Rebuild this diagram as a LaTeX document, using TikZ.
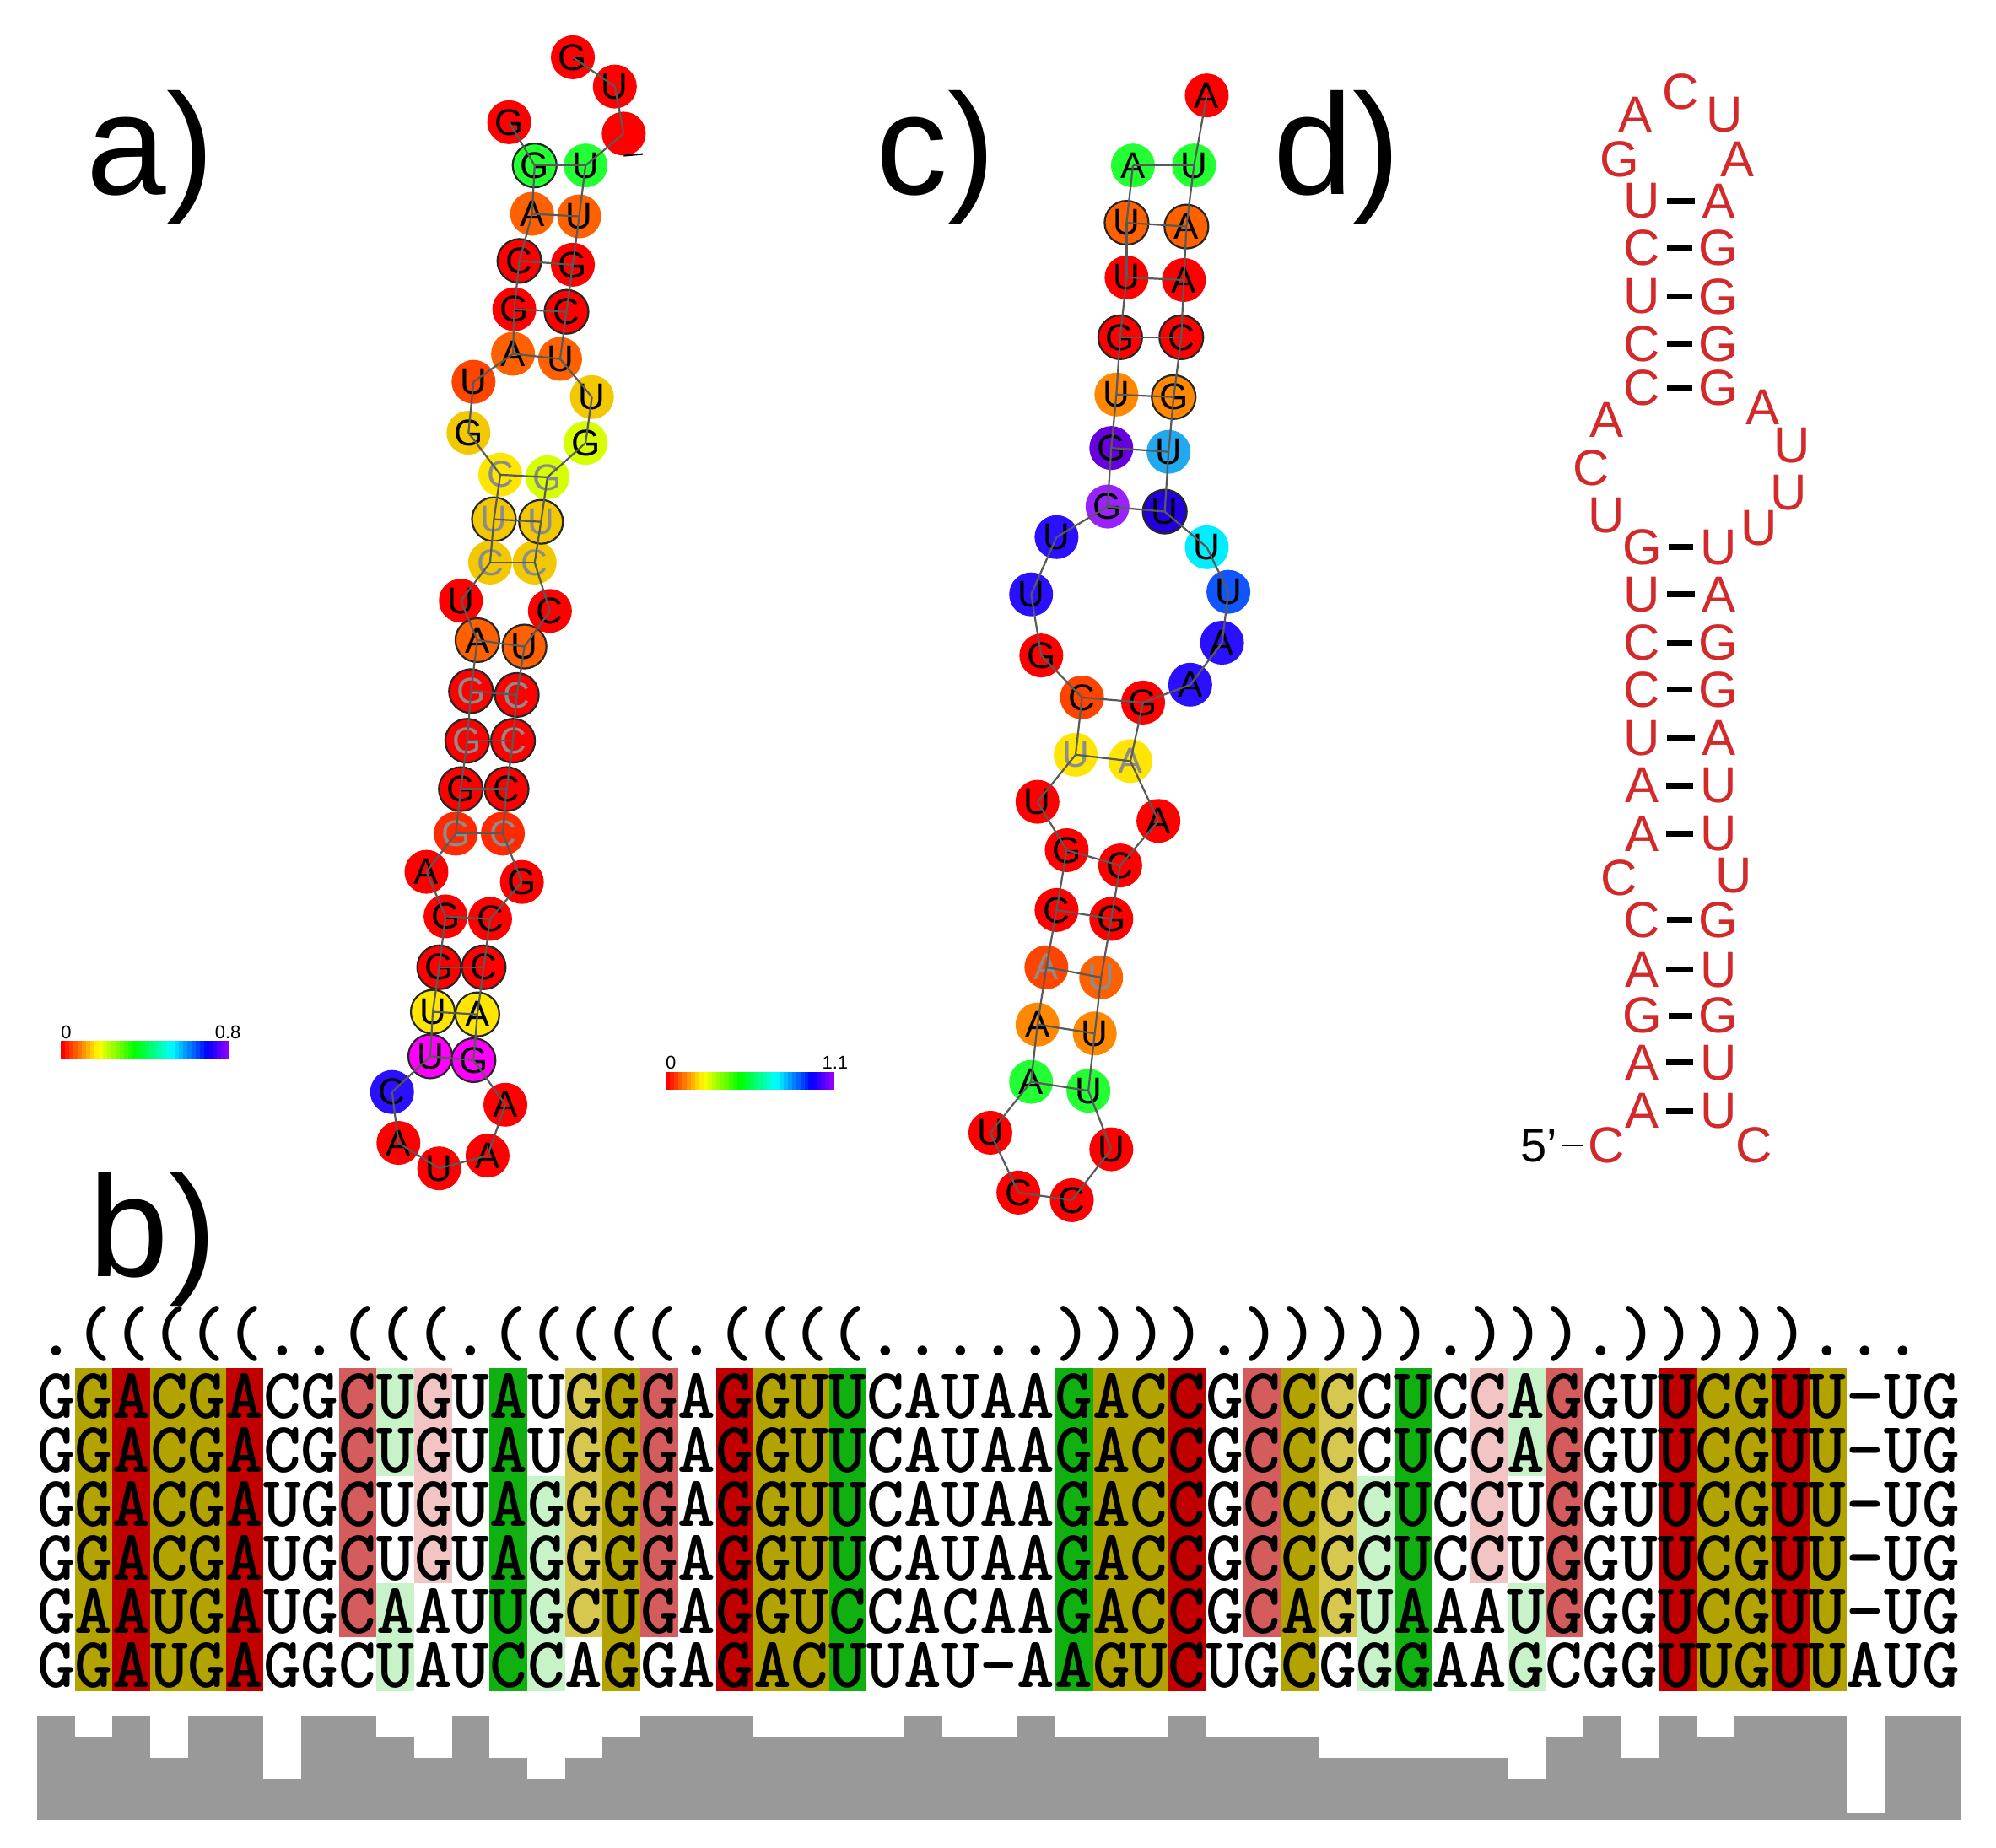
\documentclass[tikz,border=0pt]{standalone}
\usepackage{fontspec}
\setmainfont{Liberation Sans}
\begin{document}
\definecolor{cR}{HTML}{FF0000}
\definecolor{cR2}{HTML}{FF2A00}
\definecolor{cOR}{HTML}{FF4400}
\definecolor{cO}{HTML}{FF6000}
\definecolor{cO2}{HTML}{FF8800}
\definecolor{cGold}{HTML}{F2C800}
\definecolor{cY}{HTML}{FFE600}
\definecolor{cYG}{HTML}{D8FF00}
\definecolor{cG}{HTML}{22FF33}
\definecolor{cB}{HTML}{2A10FF}
\definecolor{cB2}{HTML}{1155FF}
\definecolor{cDB}{HTML}{2200DD}
\definecolor{cLB}{HTML}{22A8EE}
\definecolor{cC}{HTML}{00EEFF}
\definecolor{cP}{HTML}{6600DD}
\definecolor{cV}{HTML}{9922FF}
\definecolor{cM}{HTML}{FF00FF}
\definecolor{dred}{HTML}{D22A2A}
\definecolor{hOl}{HTML}{B3A300}
\definecolor{hDR}{HTML}{C00000}
\definecolor{hSa}{HTML}{D45C5C}
\definecolor{hPk}{HTML}{F3C4C4}
\definecolor{hGr}{HTML}{10B010}
\definecolor{hLG}{HTML}{C8F2C8}
\definecolor{hLO}{HTML}{D6C84E}
\definecolor{barg}{HTML}{999999}
\begin{tikzpicture}[x=1.509pt,y=-1.509pt,
  nt/.style={circle,inner sep=0pt,minimum size=52pt,font=\fontsize{44}{44}\selectfont},
  ol/.style={draw=black!85,line width=2.2pt},
  gt/.style={text=black!45},
  olg/.style={ol,gt},
  bb/.style={draw=black!65,line width=2.2pt},
  lab/.style={font=\fontsize{170}{170}\selectfont,anchor=base west,inner sep=0pt},
  dl/.style={text=dred,font=\fontsize{60}{60}\selectfont,inner sep=0pt},
  pbar/.style={line width=7pt,black},
  mc/.style={font=\ttfamily\bfseries\fontsize{85.1}{85.1}\selectfont,inner sep=0pt}]
\useasboundingbox (0,0) rectangle (1568,1452);
\fill[white] (0,0) rectangle (1568,1452);
% labels
\node[lab] (la) at (68,153) {a)};
\node[lab] (lb) at (70,1003) {b)};
\node[lab] (lc) at (688,153) {c)};
\node[lab] (ld) at (1000,153) {d)};
% colour bars
\foreach \i in {0,...,39}{
  \pgfmathsetmacro\h{\i*7}
  \definecolor{tmpc}{Hsb}{\h,1,1}
  \fill[tmpc] (48+\i*3.3,818) rectangle (48+\i*3.3+3.4,832);
  \fill[tmpc] (523+\i*3.3,842) rectangle (523+\i*3.3+3.4,856);
}
\node[font=\fontsize{22}{22}\selectfont,anchor=base] (cb1) at (52,816) {0};
\node[font=\fontsize{22}{22}\selectfont,anchor=base] (cb2) at (179,816) {0.8};
\node[font=\fontsize{22}{22}\selectfont,anchor=base] (cb3) at (527,840) {0};
\node[font=\fontsize{22}{22}\selectfont,anchor=base] (cb4) at (656,840) {1.1};
% ---------- panel a
\foreach \n/\x/\y/\t/\c/\s in {
1/400/96/G/cR/,2/420/130/G/cG/ol,3/418/168/A/cO/,4/408/205/C/cR/ol,5/404/243/G/cR/,
6/403/278/A/cO/,7/372/300/U/cOR/,8/368/340/G/cGold/,9/393/373/C/cY/gt,10/388/408/U/cGold/olg,
11/385/442/C/cGold/gt,12/362/472/U/cR/,13/375/503/A/cO/ol,14/370/543/G/cR/olg,15/367/582/G/cR/olg,
16/362/620/G/cR/ol,17/358/655/G/cR2/gt,18/335/685/A/cR/,19/350/720/G/cR/,20/345/760/G/cR/ol,
21/340/795/U/cY/ol,22/338/830/U/cM/ol,23/308/858/C/cB/,24/313/898/A/cR/,25/345/918/U/cR/,
26/383/908/A/cR/,27/397/868/A/cR/,28/372/833/G/cM/ol,29/375/797/A/cY/ol,30/380/760/C/cR/ol,
31/385/722/C/cR/,32/410/693/G/cR/,33/395/655/C/cR2/gt,34/398/620/C/cR/ol,35/403/582/C/cR/olg,
36/406/546/C/cR/olg,37/412/508/U/cO/ol,38/432/480/C/cR/,39/420/442/C/cGold/gt,40/425/410/U/cGold/olg,
41/430/375/G/cYG/gt,42/460/348/G/cYG/,43/465/312/U/cGold/,44/440/282/U/cO/,45/445/245/C/cR/ol,
46/450/208/G/cR/,47/455/170/U/cO/,48/460/130/U/cG/,49/490/105/{}/cR/,50/483/68/U/cR/,51/450/45/G/cR/}
{\node[nt,fill=\c,\s] (a\n) at (\x,\y) {\t};}
\foreach \i [evaluate=\i as \j using int(\i+1)] in {1,...,50}{\draw[bb] (a\i.center)--(a\j.center);}
\foreach \p/\q in {2/48,3/47,4/46,5/45,6/44,9/41,10/40,11/39,13/37,14/36,15/35,16/34,17/33,19/31,20/30,21/29,22/28}
{\draw[bb] (a\p.center)--(a\q.center);}
\coordinate (aend) at (505,121);
\draw[line width=2pt] (a49.south)--(aend);
% ---------- panel c
\foreach \n/\x/\y/\t/\c/\s in {
1/890/130/A/cG/,2/885/175/U/cO/ol,3/885/218/U/cR/,4/880/265/G/cR/ol,5/877/310/U/cO2/,
6/873/352/G/cP/,7/870/398/G/cV/,8/830/422/U/cB/,9/810/467/U/cB/,10/818/515/G/cR/,
11/850/548/C/cOR/,12/845/593/U/cY/gt,13/815/630/U/cR/,14/838/668/G/cR/,15/830/715/C/cR/,
16/822/760/A/cOR/gt,17/815/805/A/cO2/,18/810/850/A/cG/,19/778/890/U/cR/,20/800/937/C/cR/,
21/842/943/C/cR/,22/873/903/U/cR/,23/855/857/U/cG/,24/860/812/U/cO2/,25/865/768/U/cO/gt,
26/873/722/G/cR/,27/880/680/C/cR/,28/910/645/A/cR/,29/888/598/A/cY/gt,30/898/552/G/cR/,
31/935/538/A/cB/,32/960/505/A/cB/,33/965/465/U/cB2/,34/948/430/U/cC/,35/915/402/U/cDB/ol,
36/918/355/U/cLB/,37/922/312/G/cO2/ol,38/928/265/C/cR/ol,39/930/220/A/cR/,40/932/178/A/cO/ol,
41/938/130/U/cG/,42/948/75/A/cR/}
{\node[nt,fill=\c,\s] (c\n) at (\x,\y) {\t};}
\foreach \i [evaluate=\i as \j using int(\i+1)] in {1,...,41}{\draw[bb] (c\i.center)--(c\j.center);}
\foreach \p/\q in {1/41,2/40,3/39,4/38,5/37,6/36,7/35,11/30,12/29,14/27,15/26,16/25,17/24,18/23}
{\draw[bb] (c\p.center)--(c\q.center);}
% ---------- panel d
\foreach \n/\x/\y/\t in {h1/1285/90/A,h2/1320/72/C,h3/1355/90/U,h4/1272/125/G,h5/1365/125/A,
i1/1262/330/A,i2/1250/368/C,i3/1262/405/U,i4/1385/320/A,i5/1408/350/U,i6/1405/387/U,i7/1382/415/U,
j1/1272/690/C,j2/1362/688/U,k1/1262/900/C,k2/1378/900/C}
{\node[dl] (d\n) at (\x,\y) {\t};}
\foreach \n/\y/\l/\r in {1/158/U/A,2/195/C/G,3/233/U/G,4/270/C/G,5/305/C/G,
6/430/G/U,7/467/U/A,8/505/C/G,9/542/C/G,10/580/U/A,11/617/A/U,12/655/A/U,
13/723/C/G,14/762/A/U,15/798/G/G,16/835/A/U,17/873/A/U}
{\node[dl] (dl\n) at (1290,\y) {\l};
 \node[dl] (dr\n) at (1350,\y) {\r};
 \draw[pbar] ([xshift=8pt]dl\n.east)--([xshift=-8pt]dr\n.west);}
\node[font=\fontsize{56}{56}\selectfont,inner sep=0pt] (d5) at (1209,900) {5'};
\draw[line width=2.5pt] ([xshift=6pt]d5.east)--([xshift=-5pt]dk1.west);
% ---------- panel b
\def\cw{29.62}\def\xo{29.2}\def\rt{1075}\def\rh{42.3}
\foreach \col/\clr/\ra/\rb in {2/hOl/1/6,3/hDR/1/6,4/hOl/1/6,5/hOl/1/6,6/hDR/1/6,9/hSa/1/5,
10/hLG/1/2,10/hLG/5/6,11/hPk/1/4,13/hGr/1/6,14/hLG/3/6,15/hLO/1/5,16/hOl/1/6,17/hSa/1/5,
19/hDR/1/6,20/hOl/1/6,21/hOl/1/6,22/hGr/1/6,28/hGr/1/6,29/hOl/1/6,30/hOl/1/6,31/hDR/1/6,
33/hSa/1/5,34/hOl/1/6,35/hLO/1/5,36/hLG/3/6,37/hGr/1/6,39/hPk/1/4,40/hLG/1/2,40/hLG/5/6,
41/hSa/1/5,44/hDR/1/6,45/hOl/1/6,46/hOl/1/6,47/hDR/1/6,48/hOl/1/6}
{\fill[\clr] (\xo+\cw*\col-\cw,\rt+\rh*\ra-\rh) rectangle (\xo+\cw*\col,\rt+\rh*\rb);}
\foreach \r/\s in {1/GGACGACGCUGUAUGGGAGGUUCAUAAGACCGCCCCUCCAGGUUCGUU-UG,
2/GGACGACGCUGUAUGGGAGGUUCAUAAGACCGCCCCUCCAGGUUCGUU-UG,
3/GGACGAUGCUGUAGGGGAGGUUCAUAAGACCGCCCCUCCUGGUUCGUU-UG,
4/GGACGAUGCUGUAGGGGAGGUUCAUAAGACCGCCCCUCCUGGUUCGUU-UG,
5/GAAUGAUGCAAUUGCUGAGGUCCACAAGACCGCAGUAAAUGGGUCGUU-UG,
6/GGAUGAGGCUAUCCAGGAGACUUAU-AAGUCUGCGGGAAGCGGUUGUUAUG}
{\node[mc,anchor=west] (s\r) at (\xo,\rt+\rh*\r-\rh*0.5+1) {\s};}
\node[mc,anchor=west] (st) at (\xo,1048) {.(((((..(((.(((((.((((.....)))).))))).))).)))))...};
\foreach \col/\v in {1/5,2/4,3/5,4/3,5/5,6/5,7/2,8/5,9/5,10/4,11/3,12/5,13/3,14/2,15/3,16/4,17/5,
18/5,19/5,20/4,21/4,22/4,23/4,24/5,25/4,26/4,27/5,28/4,29/4,30/4,31/5,32/4,33/4,34/4,35/3,36/3,
37/3,38/3,39/3,40/2,41/4,42/5,43/3,44/5,45/4,46/5,47/5,48/5,49/0.35,50/5,51/5}
{\fill[barg] (\xo+\cw*\col-\cw,1430-16.3*\v) rectangle (\xo+\cw*\col,1430);}
\end{tikzpicture}
\end{document}
